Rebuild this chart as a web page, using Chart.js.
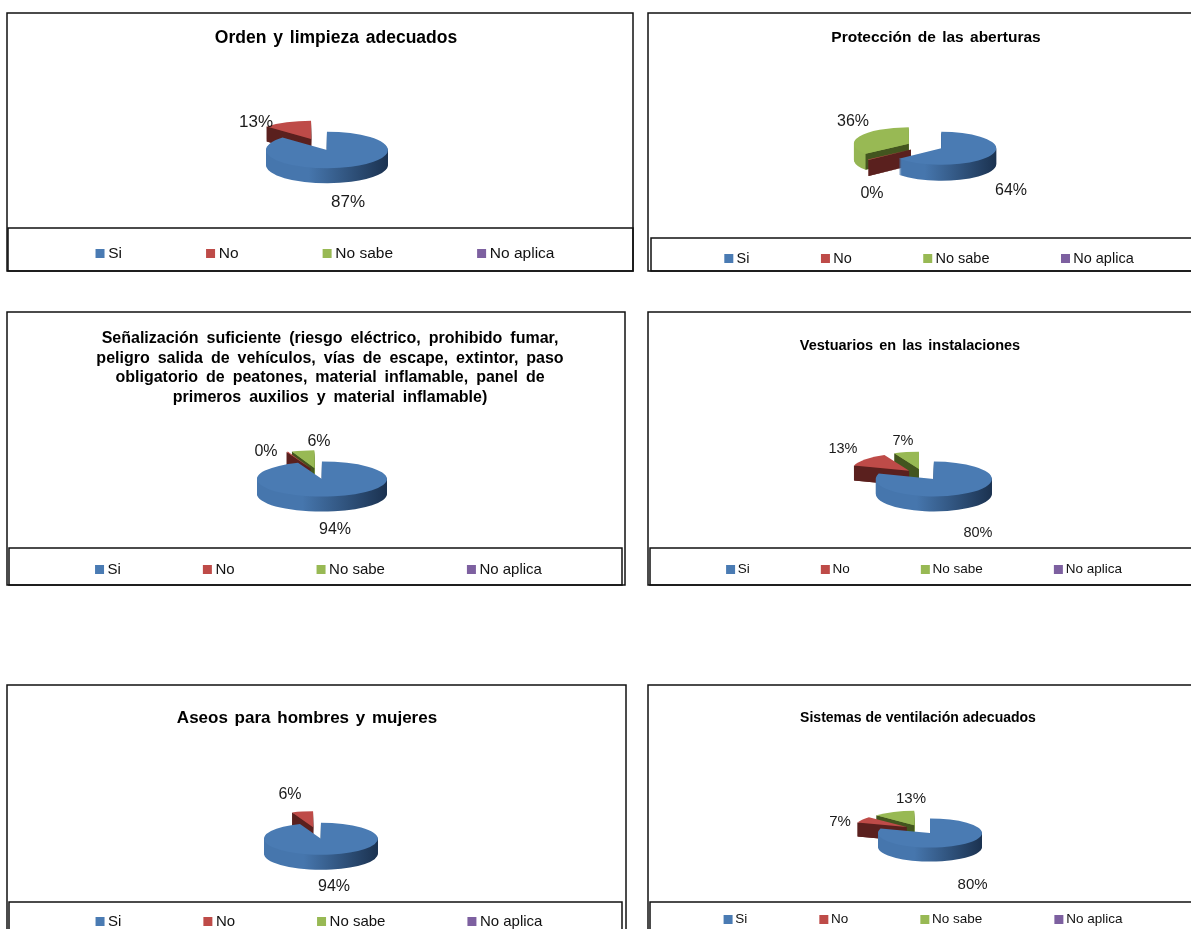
<!DOCTYPE html>
<html>
<head>
<meta charset="utf-8">
<title>Inspección</title>
<script src="https://cdn.jsdelivr.net/npm/chart.js@4"></script>
<style>
  html, body { margin: 0; padding: 0; background: #fff; overflow: hidden; width: 1191px; height: 929px; }
  canvas { position: absolute; left: 0; top: 0; }
</style>
</head>
<body>
<script>
const categories = ['Si', 'No', 'No sabe', 'No aplica']

const ordenValues = [87, 13, 0, 0]
const proteccionValues = [64, 0.4, 35.6, 0]
const senalValues = [94, 0.4, 5.6, 0]
const vestuariosValues = [80, 13, 7, 0]
const aseosValues = [94, 6, 0, 0]
const ventilacionValues = [80, 7, 13, 0]

const topColors = ['#4a7bb3', '#be4b48', '#98b954', '#7d60a0']
const rimColors = [['#4676ad', '#1b3250'], ['#662321', '#451816'], ['#95b553', '#43551f'], ['#5a4474', '#3a2c4c']]
const wallColors = ['#1b3250', '#5a201e', '#43551f', '#3a2c4c']

// page coordinates: every canvas covers the whole page
const panels = [
  { title: 'Orden y limpieza adecuados', values: ordenValues, titleX: 336, titleY: 38, titleSize: 17.5, titleWs: 2,
    box: [7, 13, 633, 271], legendBox: [8, 228, 633, 271], legendX: 327, legendY: 252, legendSize: 15.5, legendGap: 88,
    cx: 319, cy: 144.5, r: 61, k: 0.3, depth: 15, explode: 20, labelSize: 17,
    labels: [[29, 57.5], [-63, -22.5]] },
  { title: 'Protección de las aberturas', values: proteccionValues, titleX: 936, titleY: 38, titleSize: 15.5, titleWs: 2,
    box: [648, 13, 1215, 271], legendBox: [651, 238, 1215, 271], legendX: 931, legendY: 257, legendSize: 14.5, legendGap: 75.5,
    cx: 925, cy: 146, r: 55, k: 0.3, depth: 16, explode: 18, labelSize: 16,
    labels: [[86, 45], [-53, 48], [-72, -24]] },
  { title: ['Señalización suficiente (riesgo eléctrico, prohibido fumar,', 'peligro salida de vehículos, vías de escape, extintor, paso', 'obligatorio de peatones, material inflamable, panel de', 'primeros auxilios y material inflamable)'],
    values: senalValues, titleX: 330, titleY: 339, titleSize: 16, titleWs: 3.5, titleLh: 1.22,
    box: [7, 312, 625, 585], legendBox: [9, 548, 622, 585], legendX: 320.5, legendY: 568, legendSize: 15, legendGap: 86,
    cx: 318, cy: 473.5, r: 65, k: 0.27, depth: 15, explode: 21, labelSize: 16,
    labels: [[17, 56.5], [-52, -21.5], [1, -31.5]] },
  { title: 'Vestuarios en las instalaciones', values: vestuariosValues, titleX: 910, titleY: 345.5, titleSize: 14.5, titleWs: 2,
    box: [648, 312, 1215, 585], legendBox: [650, 548, 1215, 585], legendX: 926, legendY: 568, legendSize: 13.5, legendGap: 75,
    cx: 923, cy: 474.5, r: 58, k: 0.3, depth: 15, explode: 18.5, labelSize: 14.5,
    labels: [[55, 58.5], [-80, -25.5], [-20, -33.5]] },
  { title: 'Aseos para hombres y mujeres', values: aseosValues, titleX: 307, titleY: 718.5, titleSize: 17, titleWs: 2,
    box: [7, 685, 626, 945], legendBox: [9, 902, 622, 945], legendX: 321, legendY: 920, legendSize: 15, legendGap: 86,
    cx: 317, cy: 833, r: 57, k: 0.28, depth: 15, explode: 21, labelSize: 16,
    labels: [[17, 54], [-27, -38]] },
  { title: 'Sistemas de ventilación adecuados', values: ventilacionValues, titleX: 918, titleY: 718.5, titleSize: 14, titleWs: 0,
    box: [648, 685, 1215, 945], legendBox: [650, 902, 1215, 945], legendX: 925, legendY: 918, legendSize: 13.5, legendGap: 76,
    cx: 920.6, cy: 829.4, r: 52, k: 0.28, depth: 14, explode: 16, labelSize: 15,
    labels: [[52, 55.6], [-80.6, -7.4], [-9.6, -30.4]] }
]

function fillSlice(ctx, arc, fill) {
  const orig = arc.options
  arc.options = Object.assign({}, orig, { backgroundColor: fill, borderWidth: 0 })
  arc.draw(ctx)
  arc.options = orig
}

function fillWall(ctx, arc, angle, normal, h, fill) {
  // radial cut faces only show when they look towards the viewer
  if (Math.sin(normal) <= 0) return
  const px = arc.x + Math.cos(angle) * arc.outerRadius
  const py = arc.y + Math.sin(angle) * arc.outerRadius
  ctx.fillStyle = fill
  ctx.beginPath()
  ctx.moveTo(arc.x, arc.y)
  ctx.lineTo(px, py)
  ctx.lineTo(px, py + h)
  ctx.lineTo(arc.x, arc.y + h)
  ctx.closePath()
  ctx.fill()
}

function pie3dPlugin(p) {
  return {
    id: 'pie3d',
    afterLayout(chart) {
      const tb = chart.titleBlock
      tb.left = p.titleX - 500
      tb.right = p.titleX + 500
      chart.legend.left = p.legendX - 500
      chart.legend.right = p.legendX + 500
      if (!tb.wsDone) {
        // the reference titles have wide gaps between words
        const drawTitle = tb.draw
        tb.draw = function () {
          chart.ctx.wordSpacing = p.titleWs + 'px'
          drawTitle.call(tb)
          chart.ctx.wordSpacing = '0px'
        }
        tb.wsDone = true
      }
    },
    beforeDatasetsDraw(chart) {
      const ctx = chart.ctx
      const arcs = chart.getDatasetMeta(0).data
      const first = arcs[0]
      ctx.save()
      ctx.translate(p.cx, p.cy)
      ctx.scale(1, p.k)
      ctx.translate(-first.x, -first.y)
      for (let i = arcs.length - 1; i >= 0; i--) {
        if (!p.values[i]) continue
        const arc = arcs[i]
        const half = (arc.startAngle + arc.endAngle) / 2
        ctx.save()
        ctx.translate(Math.cos(half) * p.explode, Math.sin(half) * p.explode)
        const grad = ctx.createLinearGradient(arc.x - p.r * 0.3, 0, arc.x + p.r, 0)
        grad.addColorStop(0, rimColors[i][0])
        grad.addColorStop(1, rimColors[i][1])
        for (let d = p.depth; d > 0; d--) {
          ctx.save()
          ctx.translate(0, d / p.k)
          fillSlice(ctx, arc, grad)
          ctx.restore()
        }
        fillWall(ctx, arc, arc.startAngle, arc.startAngle - Math.PI / 2, p.depth / p.k, wallColors[i])
        fillWall(ctx, arc, arc.endAngle, arc.endAngle + Math.PI / 2, p.depth / p.k, wallColors[i])
        fillSlice(ctx, arc, topColors[i])
        ctx.restore()
      }
      ctx.restore()
      return false
    },
    afterDraw(chart) {
      const ctx = chart.ctx
      ctx.save()
      ctx.strokeStyle = '#111'
      ctx.lineWidth = 1.5
      ctx.strokeRect(p.box[0], p.box[1], p.box[2] - p.box[0], p.box[3] - p.box[1])
      ctx.strokeRect(p.legendBox[0], p.legendBox[1], p.legendBox[2] - p.legendBox[0], p.legendBox[3] - p.legendBox[1])
      ctx.fillStyle = '#1a1a1a'
      ctx.font = p.labelSize + 'px "Liberation Sans"'
      ctx.textAlign = 'center'
      ctx.textBaseline = 'middle'
      const shown = p.values.filter(v => v > 0)
      shown.forEach((v, i) => {
        ctx.fillText(Math.round(v) + '%', p.cx + p.labels[i][0], p.cy + p.labels[i][1])
      })
      ctx.restore()
    }
  }
}

panels.forEach(p => {
  const canvas = document.createElement('canvas')
  canvas.width = 1191
  canvas.height = 929
  document.body.appendChild(canvas)
  const titleLh = p.titleLh || 1.35
  const titleLine = p.titleSize * titleLh
  new Chart(canvas.getContext('2d'), {
    type: 'pie',
    data: {
      labels: categories,
      datasets: [{ data: p.values, backgroundColor: topColors, borderWidth: 0, radius: p.r }]
    },
    options: {
      responsive: false,
      animation: false,
      layout: { padding: { bottom: 929 - p.legendY - p.legendSize / 2 - 11.5 } },
      plugins: {
        tooltip: { enabled: false },
        title: {
          display: true,
          text: p.title,
          color: '#000',
          font: { family: '"Liberation Sans"', size: p.titleSize, weight: 'bold', lineHeight: titleLh },
          padding: { top: p.titleY - titleLine / 2, bottom: 0 }
        },
        legend: {
          position: 'bottom',
          labels: {
            color: '#111',
            font: { family: '"Liberation Sans"', size: p.legendSize },
            usePointStyle: true,
            pointStyle: 'rect',
            boxWidth: 1,
            boxHeight: 9,
            padding: p.legendGap
          }
        }
      }
    },
    plugins: [pie3dPlugin(p)]
  })
})
</script>
</body>
</html>
